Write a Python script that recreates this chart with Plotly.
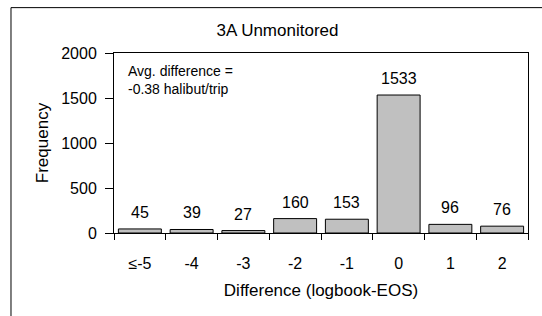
import plotly.graph_objects as go

categories = ["≤-5", "-4", "-3", "-2", "-1", "0", "1", "2"]
frequency = [45, 39, 27, 160, 153, 1533, 96, 76]
y_ticks = [0, 500, 1000, 1500, 2000]

title_text = "3A Unmonitored"
x_title = "Difference (logbook-EOS)"
y_title = "Frequency"
note_text = "Avg. difference =<br>-0.38 halibut/trip"

FONT = "Liberation Sans, Arial, sans-serif"

fig = go.Figure()
fig.add_trace(go.Bar(
    x=categories, y=frequency,
    marker=dict(color="#c0c0c0", line=dict(color="black", width=1)),
    showlegend=False, hoverinfo="x+y",
))

for i, v in enumerate(frequency):
    fig.add_annotation(x=i, y=v, text=str(v), showarrow=False,
                       xref="x", yref="y", yanchor="bottom", yshift=6,
                       font=dict(family=FONT, size=16, color="black"))

fig.add_annotation(x=0.029, y=0.955, xref="paper", yref="paper",
                   xanchor="left", yanchor="top", align="left",
                   text=note_text, showarrow=False,
                   font=dict(family=FONT, size=14, color="black"))

# outer chart border
fig.add_shape(type="rect", xref="paper", yref="paper",
              x0=-0.2488, x1=1.06, y0=-0.6, y1=1.252,
              line=dict(color="black", width=1), fillcolor="rgba(0,0,0,0)",
              layer="below")

fig.update_layout(
    width=542, height=316,
    margin=dict(l=114, r=14, t=52.5, b=83),
    paper_bgcolor="white", plot_bgcolor="white",
    font=dict(family=FONT, size=16, color="black"),
    bargap=0.17,
    title=dict(text=title_text, x=0.395, xref="paper", xanchor="center",
               y=1 - 30.2 / 316, yref="container", yanchor="middle",
               font=dict(family=FONT, size=17, color="black")),
    xaxis=dict(
        type="category", tickson="boundaries", ticks="outside", ticklen=6,
        tickcolor="black", showline=True, linecolor="black", linewidth=1,
        mirror=True, showgrid=False, ticklabelstandoff=16,
        title=dict(text=x_title, standoff=12, font=dict(family=FONT, size=17)),
        tickfont=dict(family=FONT, size=16),
    ),
    yaxis=dict(
        range=[0, 2000], tickvals=y_ticks, ticks="outside", ticklen=8,
        tickcolor="black", showline=True, linecolor="black", linewidth=1,
        mirror=True, showgrid=False, zeroline=False, ticklabelstandoff=5,
        title=dict(text=y_title, standoff=8, font=dict(family=FONT, size=17)),
        tickfont=dict(family=FONT, size=16),
    ),
)

fig.write_html("out.html", config={"displayModeBar": False},
               post_script="document.body.style.margin='0';document.body.style.overflow='hidden';")
